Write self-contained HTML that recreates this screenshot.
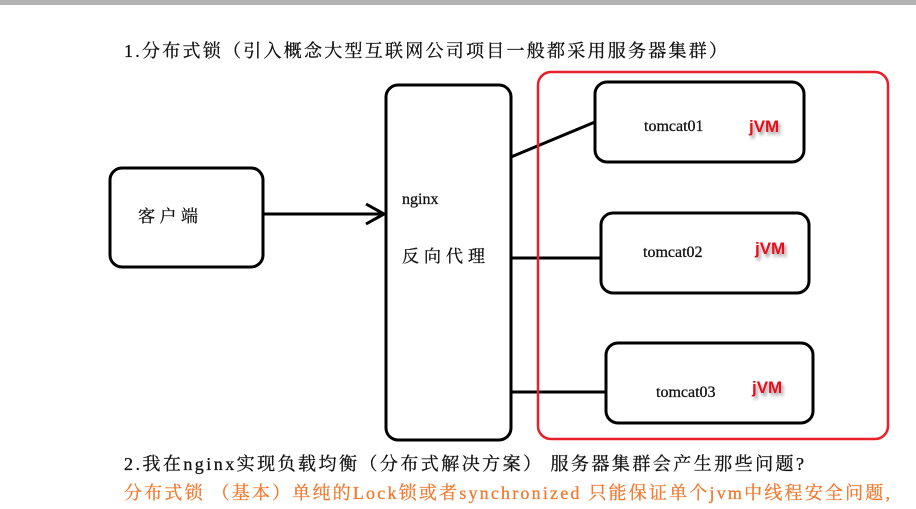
<!DOCTYPE html>
<html><head><meta charset="utf-8"><style>
html,body{margin:0;padding:0;background:#fff;}
body{width:916px;height:509px;overflow:hidden;position:relative;}
svg{position:absolute;left:0;top:0;}
</style></head><body>
<svg width="916" height="509" viewBox="0 0 916 509" xmlns="http://www.w3.org/2000/svg">
<defs><filter id="sh" x="-20%" y="-20%" width="150%" height="160%"><feDropShadow dx="2" dy="3" stdDeviation="1.5" flood-color="#000" flood-opacity="0.4"/></filter></defs>
<rect x="0" y="0" width="916" height="5" fill="#b3b3b3"/>
<text x="124" y="57" textLength="603" lengthAdjust="spacing" font-family="Liberation Serif, Noto Serif CJK SC, serif" font-size="18" fill="#111" stroke="#111" stroke-width="0.3">1.分布式锁（引入概念大型互联网公司项目一般都采用服务器集群）</text>
<g fill="none" stroke="#000" stroke-width="3">
<rect x="110" y="168" width="153" height="99" rx="12"/>
<rect x="386" y="85" width="125" height="355" rx="12"/>
<rect x="595" y="82" width="209" height="80" rx="12"/>
<rect x="601" y="213" width="208" height="80" rx="12"/>
<rect x="606" y="343" width="207" height="80" rx="12"/>
<line x1="263" y1="214" x2="384" y2="214"/>
<polyline points="366,204 384,214 366,224"/>
<line x1="511" y1="157" x2="595" y2="122"/>
<line x1="511" y1="258" x2="601" y2="258"/>
<line x1="511" y1="392" x2="606" y2="392"/>
</g>
<rect x="538" y="72" width="350" height="367" rx="13" fill="none" stroke="#e8202a" stroke-width="2.5"/>
<g font-family="Liberation Serif, Noto Serif CJK SC, serif" fill="#111" stroke="#111" stroke-width="0.3">
<text x="138" y="222" font-size="17" textLength="60" lengthAdjust="spacing">客户端</text>
<text x="402" y="204" font-size="16">nginx</text>
<text x="402" y="262" font-size="17" textLength="83" lengthAdjust="spacing">反向代理</text>
<text x="644" y="131" font-size="16">tomcat01</text>
<text x="643" y="257" font-size="16">tomcat02</text>
<text x="656" y="397" font-size="16">tomcat03</text>
</g>
<g font-family="Liberation Sans, sans-serif" font-weight="bold" font-size="17" fill="#e8101a" filter="url(#sh)">
<text x="749" y="132">jVM</text>
<text x="755" y="254">jVM</text>
<text x="752" y="393">jVM</text>
</g>
<text x="124" y="470" textLength="680" lengthAdjust="spacing" font-family="Liberation Serif, Noto Serif CJK SC, serif" font-size="18" fill="#111" stroke="#111" stroke-width="0.3">2.我在nginx实现负载均衡（分布式解决方案） 服务器集群会产生那些问题?</text>
<text x="124" y="499" textLength="766" lengthAdjust="spacing" font-family="Liberation Serif, Noto Serif CJK SC, serif" font-size="18" fill="#f07a30" stroke="#f07a30" stroke-width="0.3">分布式锁 （基本）单纯的Lock锁或者synchronized 只能保证单个jvm中线程安全问题,</text>
</svg>
</body></html>
